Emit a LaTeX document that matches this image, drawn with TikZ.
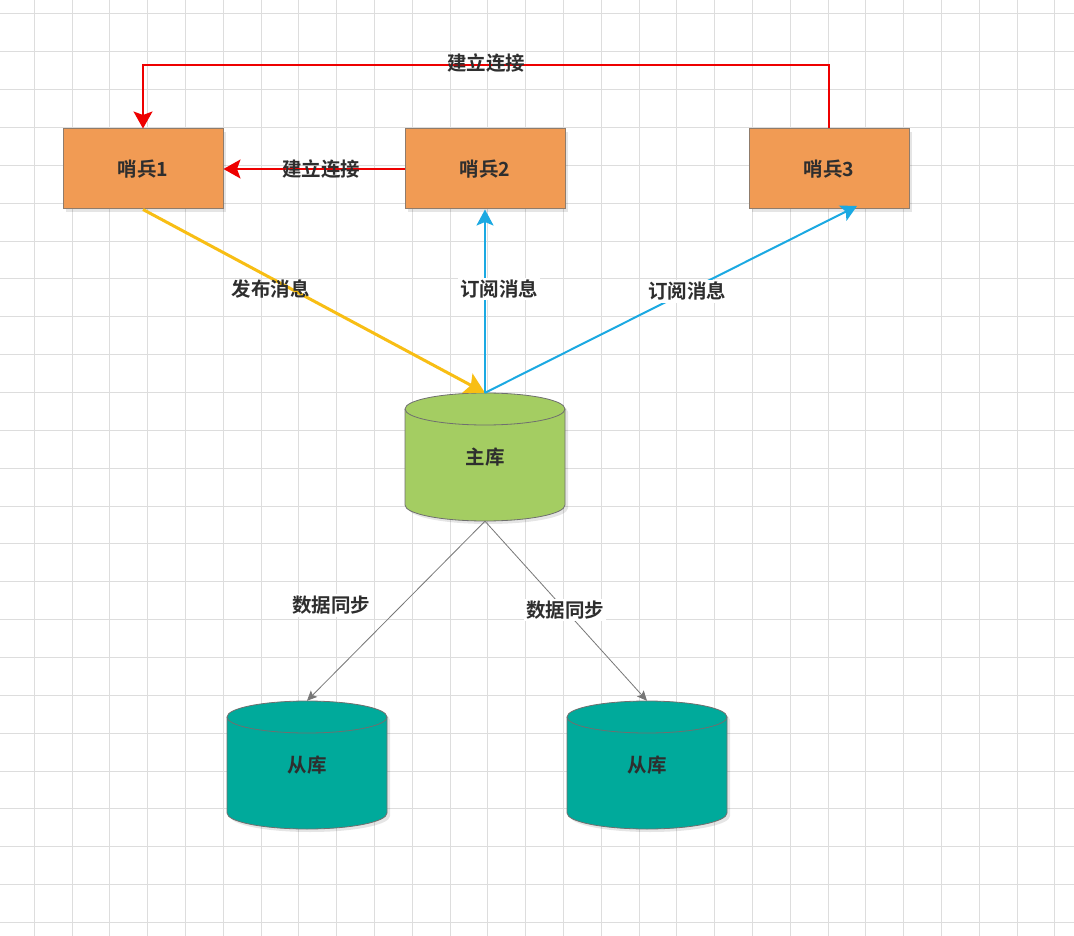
\documentclass[tikz,border=0pt]{standalone}
\usepackage{fontspec}
\newfontfamily\cjk{Noto Sans CJK SC}[BoldFont={Noto Sans CJK SC Bold}]
\usetikzlibrary{arrows.meta}
\definecolor{boxorange}{HTML}{F19B54}
\definecolor{boxedge}{HTML}{8F7C6C}
\definecolor{dbgreen}{HTML}{A4CD62}
\definecolor{dbteal}{HTML}{00AA9B}
\definecolor{dbedge}{HTML}{6F6F6F}
\definecolor{txt}{HTML}{2E2E2E}
\definecolor{linkred}{HTML}{EE0000}
\definecolor{pubyellow}{HTML}{F8BE14}
\definecolor{subblue}{HTML}{1BA9E2}
\definecolor{syncgray}{HTML}{777777}
\definecolor{gridc}{HTML}{DDDDDD}
\tikzset{
  box/.style={draw=boxedge, line width=1pt, fill=boxorange, minimum width=160pt, minimum height=80pt, inner sep=0pt, font=\cjk\bfseries\fontsize{19.5}{22}\selectfont, text=txt},
  dbnode/.style={minimum width=160pt, minimum height=128pt, inner sep=0pt, font=\cjk\bfseries\fontsize{19.5}{22}\selectfont, text=txt},
  lbl/.style={font=\cjk\bfseries\fontsize{19.5}{22}\selectfont, text=txt, inner sep=2pt},
  lblw/.style={lbl, fill=white},
  redline/.style={draw=linkred, line width=2pt, -{Stealth[length=17pt,width=19pt,inset=3.5pt]}},
  yelline/.style={draw=pubyellow, line width=3pt, -{Stealth[length=20pt,width=22pt,inset=4pt]}},
  blueline/.style={draw=subblue, line width=2pt, -{Stealth[length=16pt,width=17pt,inset=3.5pt]}},
  grayline/.style={draw=syncgray, line width=0.8pt, -{Stealth[length=10pt,width=9pt,inset=2pt]}},
  shadowc/.style={fill=black, fill opacity=0.10, draw=none}
}
\begin{document}
\begin{tikzpicture}[x=1pt,y=-1pt]
\useasboundingbox (0,0) rectangle (1074,936);
\fill[white] (0,0) rectangle (1074,936);
% grid
\foreach \i in {0,...,27} {\draw[gridc, line width=1pt] ({34.3+37.8*\i},0) -- ({34.3+37.8*\i},936);}
\foreach \j in {0,...,24} {\draw[gridc, line width=1pt] (0,{14+37.85*\j}) -- (1074,{14+37.85*\j});}

% box shadows
\fill[shadowc] (66,132) rectangle (226,212);
\fill[shadowc] (408,132) rectangle (568,212);
\fill[shadowc] (752,132) rectangle (912,212);

% sentinel boxes
\node[box] (s1) at (143,169) {哨兵1};
\node[box] (s2) at (485,169) {哨兵2};
\node[box] (s3) at (829,169) {哨兵3};

% cylinders: shadow + body
\foreach \cx/\top/\col in {485/393/dbgreen, 307/701/dbteal, 647/701/dbteal} {
  \begin{scope}[shift={(3,3)}]
    \fill[shadowc] ({\cx-80},{\top+16}) -- ({\cx-80},{\top+112}) arc[start angle=180,end angle=360,x radius=80pt,y radius=16pt] -- ({\cx+80},{\top+16}) arc[start angle=0,end angle=180,x radius=80pt,y radius=16pt] -- cycle;
  \end{scope}
  \filldraw[fill=\col, draw=dbedge, line width=0.8pt] ({\cx-80},{\top+16}) -- ({\cx-80},{\top+112}) arc[start angle=180,end angle=360,x radius=80pt,y radius=16pt] -- ({\cx+80},{\top+16}) arc[start angle=0,end angle=180,x radius=80pt,y radius=16pt] -- cycle;
  \draw[draw=dbedge, line width=0.8pt] ({\cx-80},{\top+16}) arc[start angle=180,end angle=360,x radius=80pt,y radius=16pt];
}
\node[dbnode] (m) at (485,457) {主库};
\node[dbnode] (c1) at (307,765) {从库};
\node[dbnode] (c2) at (647,765) {从库};

\coordinate (s3in) at (857,206);

% connectors
\draw[redline] (s3.north) -- (s3.north |- 0,65) -- node[lbl, yshift=2pt]{建立连接} (s1.north |- 0,65) -- (s1.north);
\draw[redline] (s2.west) -- node[lbl, pos=0.46]{建立连接} (s1.east);
\draw[yelline] (s1.south) -- node[lbl, pos=0.374, yshift=-11pt]{发布消息} (m.north);
\draw[blueline] (m.north) -- node[lblw, pos=0.565, xshift=14pt]{订阅消息} (s2.south);
\draw[blueline] (m.north) -- node[lblw, pos=0.543]{订阅消息} (s3in);
\draw[grayline] (m.south) -- node[lblw, pos=0.47, xshift=-70pt]{数据同步} (c1.north);
\draw[grayline] (m.south) -- node[lblw, pos=0.494]{数据同步} (c2.north);
\end{tikzpicture}
\end{document}
